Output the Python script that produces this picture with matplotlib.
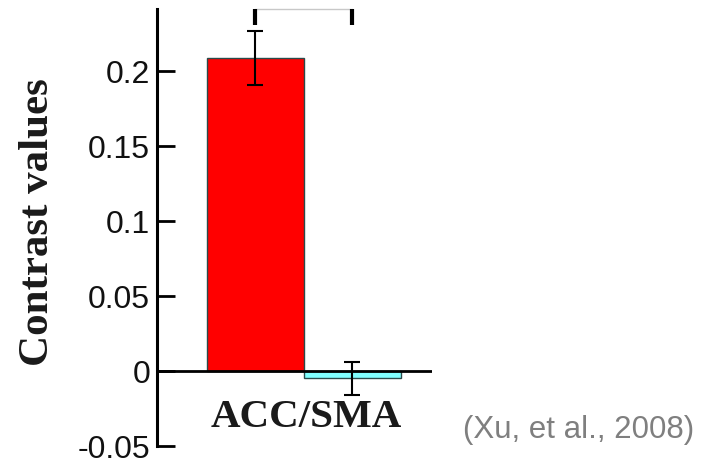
import matplotlib
matplotlib.use("Agg")
import matplotlib.pyplot as plt

categories = ["cond1", "cond2"]
values = [0.2087, -0.005]
errors = [0.0178, 0.0113]
bar_colors = ["#FF0000", "#80FFFF"]
yticks = [-0.05, 0, 0.05, 0.1, 0.15, 0.2]
ytick_labels = ["-0.05", "0", "0.05", "0.1", "0.15", "0.2"]
group_label = "ACC/SMA"
ylabel = "Contrast values"
citation = "(Xu, et al., 2008)"

fig = plt.figure(figsize=(7.19, 4.64), dpi=100)
ax = fig.add_axes([157/719, (464-447)/464, (432-157)/719, (447-10)/464])

x = list(range(len(categories)))
ax.bar(x, values, width=1.0, color=bar_colors, edgecolor="#2a4a4a", linewidth=1.0, zorder=2)
ax.errorbar(x, values, yerr=errors, fmt="none", ecolor="black", elinewidth=1.5,
            capsize=6, capthick=1.5, zorder=3)

ax.set_xlim(-1.01, 1.82)
ax.set_ylim(-0.05, 0.2413)
ax.axhline(0, color="black", linewidth=2, zorder=4)

for s in ["top", "right", "bottom"]:
    ax.spines[s].set_visible(False)
ax.spines["left"].set_linewidth(2.2)

ax.set_yticks(yticks)
ax.set_yticklabels(ytick_labels, fontfamily="Liberation Sans", fontsize=23, color="#111111")
ax.tick_params(axis="y", direction="in", length=13, width=2, pad=5)
ax.set_xticks([])

# significance bracket (cut off at top)
ytop = 0.2413
ax.plot([x[0], x[1]], [ytop, ytop], color="#c8c8c8", linewidth=1, clip_on=False, zorder=5)
for xi in x:
    ax.plot([xi, xi], [ytop, 0.2305], color="black", linewidth=3, clip_on=False, zorder=5,
            solid_capstyle="butt")

ax.text(0.53, -0.0305, group_label, ha="center", va="center", fontfamily="Liberation Serif",
        fontweight="bold", fontsize=29.5, color="#1a1a1a")

fig.text(38/719, (464-222)/464, ylabel, rotation=90, ha="center", va="center",
         fontfamily="Liberation Serif", fontweight="bold", fontsize=31, color="#1a1a1a")

fig.text(579/719, (464-430)/464, citation, ha="center", va="center",
         fontfamily="Liberation Sans", fontsize=22.5, color="#7f7f7f")

fig.savefig("out.png", dpi=100)
